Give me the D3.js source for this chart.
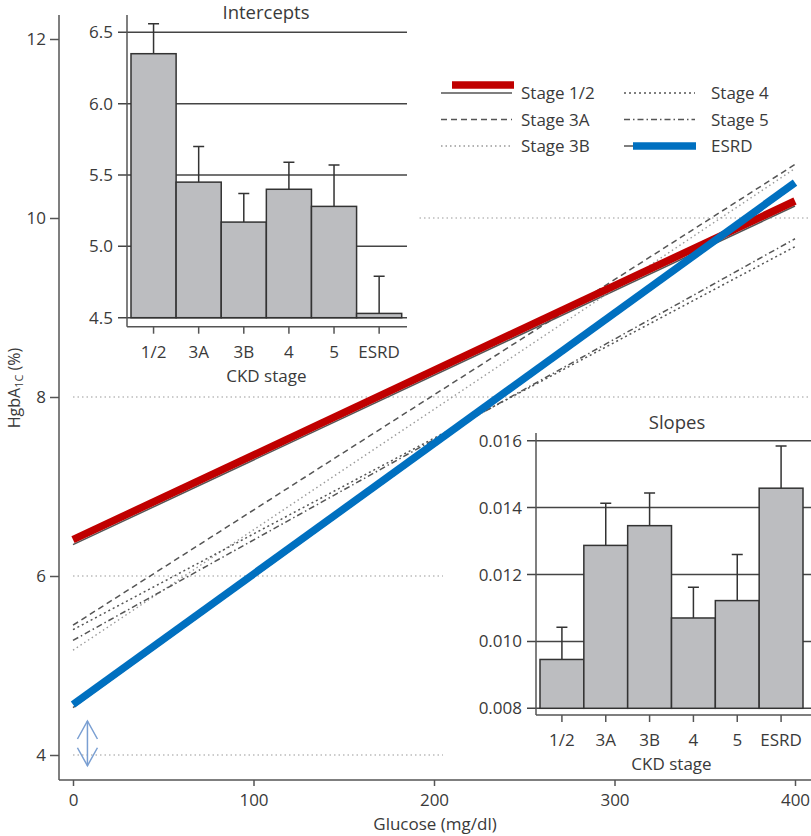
<!DOCTYPE html>
<meta charset="utf-8">
<script src="https://cdnjs.cloudflare.com/ajax/libs/d3/7.8.5/d3.min.js"></script>
<style>
 body { margin: 0; background: #fff; }
 svg text { font-family: "Open Sans", sans-serif; fill: #3a3a3a; }
</style>
<div id="container"></div>
<script>
 // values
 var stages = ["1/2", "3A", "3B", "4", "5", "ESRD"];
 var stageNames = ["Stage 1/2", "Stage 3A", "Stage 3B", "Stage 4", "Stage 5", "ESRD"];
 var intercepts = [6.35, 5.45, 5.17, 5.40, 5.28, 4.53];
 var interceptErr = [0.21, 0.25, 0.20, 0.19, 0.29, 0.26];
 var slopes = [0.00946, 0.01287, 0.01346, 0.0107, 0.01122, 0.01458];
 var slopeErr = [0.00096, 0.00126, 0.00098, 0.00092, 0.00138, 0.00126];
 var glucoseTicks = [0, 100, 200, 300, 400];
 var hbaTicks = [4, 6, 8, 10, 12];
 var interceptTicks = [4.5, 5.0, 5.5, 6.0, 6.5];
 var slopeTicks = [0.008, 0.010, 0.012, 0.014, 0.016];

 var width = 811, height = 836;
 var fs = 17;
 var lineStyle = [
     {dash: null, color: "#555", w: 1.5},
     {dash: "6,4", color: "#555", w: 1.5},
     {dash: "1.5,3", color: "#999", w: 1.4},
     {dash: "2,3", color: "#555", w: 1.5},
     {dash: "6,3,1.5,3", color: "#555", w: 1.5},
     {dash: null, color: "#555", w: 1.5}
 ];
 var red = "#c00000", blue = "#0070c0";

 var svg = d3.select("#container").append("svg")
             .attr("width", width).attr("height", height);

 var x = d3.scaleLinear().domain([0, 400]).range([73, 795]);
 var y = d3.scaleLinear().domain([4, 12]).range([755, 39]);

 // dotted reference lines (partly hidden by the insets)
 svg.append("g").selectAll("line")
    .data(hbaTicks.slice(0, 4))
    .enter().append("line")
    .attr("x1", x(0)).attr("x2", width)
    .attr("y1", d => y(d)).attr("y2", d => y(d))
    .attr("stroke", "#9a9a9a").attr("stroke-width", 1.2)
    .attr("stroke-dasharray", "1.5,3");

 // white backing of the insets
 svg.append("rect").attr("x", 0).attr("y", 0).attr("width", 417).attr("height", 388).attr("fill", "#fff");
 svg.append("rect").attr("x", 443).attr("y", 402).attr("width", 368).attr("height", 374).attr("fill", "#fff");

 // main axes
 var yAxis = svg.append("g")
     .attr("transform", "translate(59,0)")
     .call(d3.axisLeft(y).tickValues(hbaTicks).tickSize(9).tickPadding(4));
 var xAxis = svg.append("g")
     .attr("transform", "translate(0,780)")
     .call(d3.axisBottom(x).tickValues(glucoseTicks).tickSize(6).tickPadding(8));
 [yAxis, xAxis].forEach(function (g) {
     g.select(".domain").remove();
     g.selectAll("line").attr("stroke", "#555").attr("stroke-width", 1.5);
     g.selectAll("text").attr("font-size", fs).attr("fill", "#3a3a3a")
      .attr("font-family", "Open Sans, sans-serif");
 });
 svg.append("line").attr("x1", 59).attr("x2", 59).attr("y1", 15).attr("y2", 780)
    .attr("stroke", "#555").attr("stroke-width", 1.5);
 svg.append("line").attr("x1", 59).attr("x2", width).attr("y1", 780).attr("y2", 780)
    .attr("stroke", "#555").attr("stroke-width", 1.5);

 svg.append("text").attr("x", 435).attr("y", 830)
    .attr("text-anchor", "middle").attr("font-size", fs).text("Glucose (mg/dl)");

 var ylab = svg.append("text").attr("transform", "translate(20,388) rotate(-90)")
    .attr("text-anchor", "middle").attr("font-size", 16);
 ylab.append("tspan").text("HgbA");
 ylab.append("tspan").attr("font-size", 11).attr("dy", 3).text("1C");
 ylab.append("tspan").attr("dy", -3).text(" (%)");

 // regression lines
 var fit = stages.map((s, i) => [0, 400].map(g => [g, intercepts[i] + slopes[i] * g]));
 var line = d3.line().x(d => x(d[0])).y(d => y(d[1]));
 svg.append("g").selectAll("path")
    .data(fit).enter().append("path")
    .attr("d", line)
    .attr("fill", "none")
    .attr("stroke", (d, i) => lineStyle[i].color)
    .attr("stroke-width", (d, i) => lineStyle[i].w)
    .attr("stroke-dasharray", (d, i) => lineStyle[i].dash);
 svg.append("path").attr("d", line(fit[0])).attr("transform", "translate(0,-5)")
    .attr("fill", "none").attr("stroke", red).attr("stroke-width", 7.5);
 svg.append("path").attr("d", line(fit[5])).attr("transform", "translate(0,-3)")
    .attr("fill", "none").attr("stroke", blue).attr("stroke-width", 7.5);

 // double arrow near the lower left
 var ax = x(8), ayTop = y(4.38), ayBot = y(3.88);
 var arrow = svg.append("g").attr("stroke", "#7a9fd2").attr("stroke-width", 1.5).attr("fill", "none");
 arrow.append("line").attr("x1", ax).attr("x2", ax).attr("y1", ayTop).attr("y2", ayBot);
 arrow.append("path").attr("d", `M${ax - 10},${ayTop + 18}L${ax},${ayTop}L${ax + 10},${ayTop + 18}`);
 arrow.append("path").attr("d", `M${ax - 10},${ayBot - 18}L${ax},${ayBot}L${ax + 10},${ayBot - 18}`);

 // legend
 var legend = svg.append("g");
 stageNames.forEach(function (name, i) {
     var col = i < 3 ? 0 : 1;
     var ly = 93 + (i % 3) * 26.5;
     var lx = col ? 624 : 441;
     legend.append("line").attr("x1", lx).attr("x2", lx + 71).attr("y1", ly).attr("y2", ly)
           .attr("stroke", lineStyle[i].color).attr("stroke-width", lineStyle[i].w)
           .attr("stroke-dasharray", lineStyle[i].dash);
     legend.append("text").attr("x", col ? 711 : 521).attr("y", ly + 6)
           .attr("font-size", fs).text(name);
 });
 legend.append("line").attr("x1", 452).attr("x2", 514).attr("y1", 85).attr("y2", 85)
       .attr("stroke", red).attr("stroke-width", 7.5);
 legend.append("line").attr("x1", 633).attr("x2", 696).attr("y1", 146).attr("y2", 146)
       .attr("stroke", blue).attr("stroke-width", 7.5);

 // bar inset helper
 function inset(o) {
     var g = svg.append("g");
     var xb = d3.scaleBand().domain(stages).range(o.bars);
     var yb = d3.scaleLinear().domain(o.domain).range(o.yr);
     var base = o.domain[0];
     g.selectAll("line.grid").data(o.ticks).enter().append("line")
      .attr("x1", o.axisX - 9).attr("x2", o.right)
      .attr("y1", d => yb(d)).attr("y2", d => yb(d))
      .attr("stroke", "#444").attr("stroke-width", 1.5);
     g.selectAll("text.tick").data(o.ticks).enter().append("text")
      .attr("x", o.axisX - 14).attr("y", d => yb(d) + 6)
      .attr("text-anchor", "end").attr("font-size", fs).text(o.fmt);
     // error bars
     g.selectAll("path.err").data(stages).enter().append("path")
      .attr("d", (s, i) => {
          var cx = xb(s) + xb.bandwidth() / 2, top = yb(o.values[i] + o.err[i]);
          return `M${cx},${yb(o.values[i])}V${top}M${cx - 5.5},${top}H${cx + 5.5}`;
      })
      .attr("stroke", "#333").attr("stroke-width", 1.5).attr("fill", "none");
     g.selectAll("rect").data(stages).enter().append("rect")
      .attr("x", s => xb(s)).attr("width", xb.bandwidth())
      .attr("y", (s, i) => yb(o.values[i]))
      .attr("height", (s, i) => yb(base) - yb(o.values[i]))
      .attr("fill", "#bcbdc0").attr("stroke", "#333").attr("stroke-width", 1.5);
     g.append("line").attr("x1", o.axisX).attr("x2", o.axisX).attr("y1", o.top).attr("y2", o.axisY)
      .attr("stroke", "#555").attr("stroke-width", 1.5);
     g.append("line").attr("x1", o.axisX).attr("x2", o.right).attr("y1", o.axisY).attr("y2", o.axisY)
      .attr("stroke", "#555").attr("stroke-width", 1.5);
     g.selectAll("line.xt").data(stages).enter().append("line")
      .attr("x1", s => xb(s) + xb.bandwidth() / 2).attr("x2", s => xb(s) + xb.bandwidth() / 2)
      .attr("y1", o.axisY).attr("y2", o.axisY + 7)
      .attr("stroke", "#555").attr("stroke-width", 1.5);
     g.selectAll("text.xl").data(stages).enter().append("text")
      .attr("x", s => xb(s) + xb.bandwidth() / 2).attr("y", o.axisY + 31)
      .attr("text-anchor", "middle").attr("font-size", fs).text(s => s);
     g.append("text").attr("x", (o.bars[0] + o.bars[1]) / 2).attr("y", o.axisY + 55)
      .attr("text-anchor", "middle").attr("font-size", fs).text("CKD stage");
     g.append("text").attr("x", o.titleX).attr("y", o.titleY)
      .attr("text-anchor", "middle").attr("font-size", 18.5).text(o.title);
 }

 inset({
     values: intercepts, err: interceptErr, ticks: interceptTicks,
     domain: [4.5, 6.5], yr: [317.7, 32.3], bars: [131, 401.7],
     axisX: 127, axisY: 326.7, top: 15, right: 407,
     fmt: d3.format(".1f"), title: "Intercepts", titleX: 266, titleY: 19
 });
 inset({
     values: slopes, err: slopeErr, ticks: slopeTicks,
     domain: [0.008, 0.016], yr: [708.3, 440.7], bars: [540, 803],
     axisX: 536, axisY: 715, top: 433, right: 811,
     fmt: d3.format(".3f"), title: "Slopes", titleX: 677, titleY: 429
 });
</script>
